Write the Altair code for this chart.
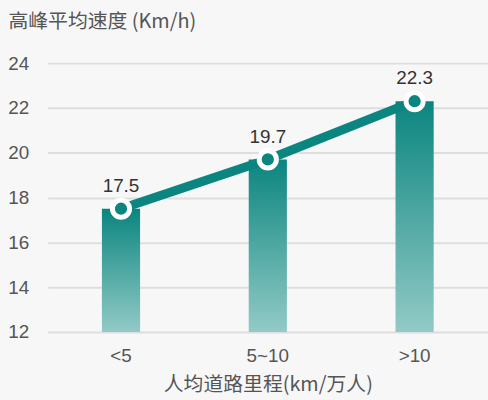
import altair as alt
import pandas as pd

categories = ["<5", "5~10", ">10"]
speeds = [17.5, 19.7, 22.3]
labels = ["17.5", "19.7", "22.3"]

df = pd.DataFrame({"cat": categories, "v": speeds, "lab": labels, "base": [12, 12, 12]})

teal = "#0b857f"

x = alt.X("cat:N", sort=categories,
          scale=alt.Scale(paddingInner=0.74, paddingOuter=0.37),
          axis=alt.Axis(title="人均道路里程(km/万人)", labelAngle=0, ticks=False, domain=False,
                        labelFontSize=19, labelColor="#555", labelPadding=15,
                        labelFont="Liberation Sans", titleFont="Noto Sans CJK SC",
                        titleFontSize=20, titleFontWeight="normal", titleColor="#555",
                        titlePadding=9))
y = alt.Y("v:Q", scale=alt.Scale(domain=[12, 24], nice=False, zero=False),
          axis=alt.Axis(title="高峰平均速度 (Km/h)", values=[12, 14, 16, 18, 20, 22, 24],
                        ticks=False, domain=False, grid=True, gridColor="#dedede", gridWidth=2,
                        labelFontSize=19, labelColor="#555", labelPadding=19,
                        labelFont="Liberation Sans",
                        titleAngle=0, titleX=-40, titleY=-42, titleAlign="left",
                        titleBaseline="middle", titleFont="Noto Sans CJK SC",
                        titleFontSize=20, titleFontWeight="normal", titleColor="#555"))

base = alt.Chart(df)

bars = base.mark_bar(color=alt.Gradient(gradient="linear", x1=0, y1=0, x2=0, y2=1,
                                        stops=[alt.GradientStop(offset=0, color="#0b857f"),
                                               alt.GradientStop(offset=1, color="#92cac6")])).encode(
    x=x, y=y, y2="base:Q")

line = base.mark_line(color=teal, strokeWidth=9).encode(x=x, y=y)
points = base.mark_point(shape="circle", filled=True, fill=teal, stroke="white",
                         strokeWidth=5, opacity=1, size=300).encode(x=x, y=y)
text = base.mark_text(dy=-23, fontSize=19, color="#333", font="Liberation Sans").encode(
    x=x, y=y, text="lab:N")

chart = alt.layer(bars, line, points, text).properties(
    width=444, height=271,
    background="#f7f7f7",
    padding={"left": 48, "top": 62, "right": 0, "bottom": 67},
    autosize=alt.AutoSizeParams(type="none"),
).configure_view(stroke=None)

chart.save("out.html", embed_options={"renderer": "svg", "actions": False})
